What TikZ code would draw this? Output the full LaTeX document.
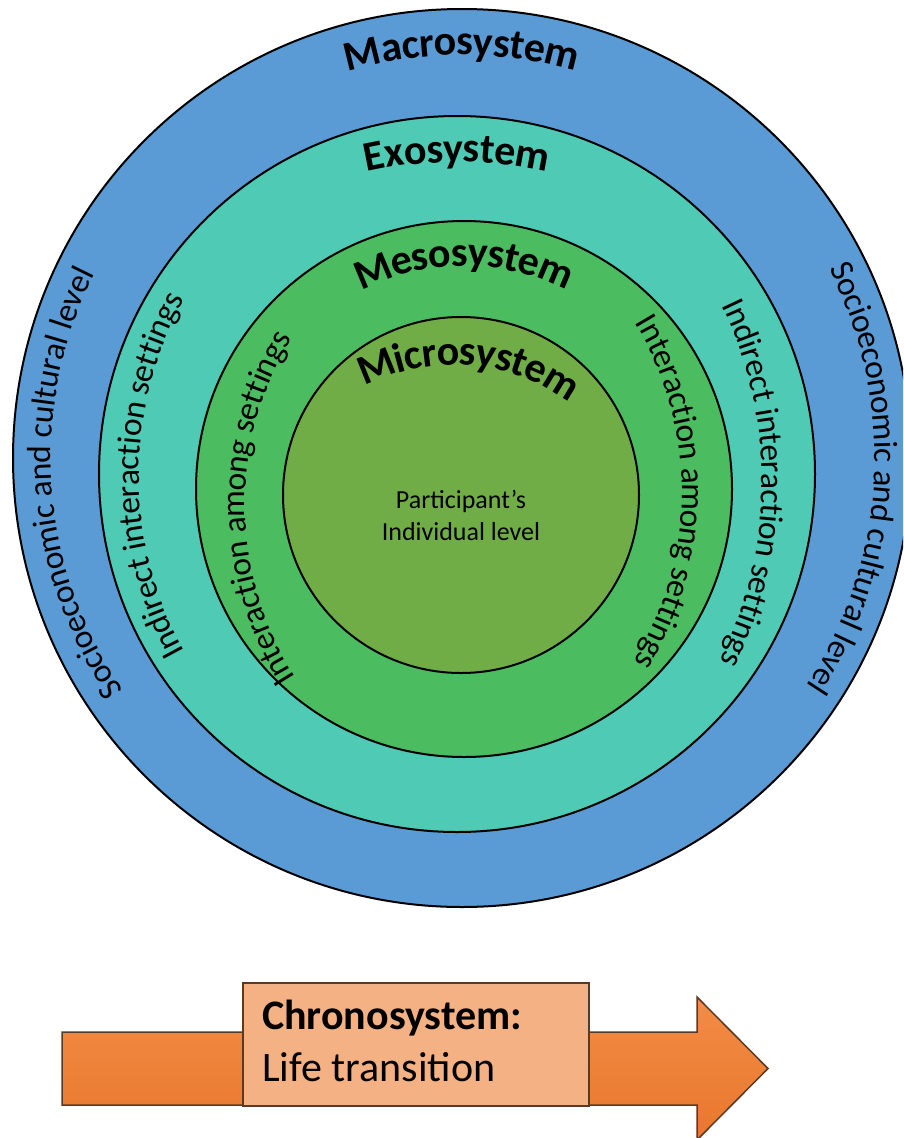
\documentclass[tikz,border=0pt]{standalone}
\usepackage{fontspec}
\setmainfont{Carlito}
\usetikzlibrary{decorations.text}

\definecolor{macroblue}{HTML}{5B9BD5}
\definecolor{exoteal}{HTML}{4FCAB4}
\definecolor{mesogreen}{HTML}{4BBC5F}
\definecolor{microgreen}{HTML}{70AD47}
\definecolor{arrowtop}{HTML}{F38C46}
\definecolor{arrowbottom}{HTML}{E8772C}
\definecolor{arrowedge}{HTML}{5A3A22}
\definecolor{boxfill}{HTML}{F4B183}

\newcommand\bigbold{\fontsize{42}{50}\selectfont\bfseries}
\newcommand\sidefont{\fontsize{33.5}{40}\selectfont}

% text set along a circular arc, running clockwise:
% #1,#2 centre (x, y measured downwards), #3 radius, #4 middle angle,
% #5 half span of the arc, #6 raise of the baseline, #7 text
\newcommand\ringtext[7]{%
  \path[decorate,
        decoration={text along path, text align={align=center}, raise=#6, text={#7}},
        shift={(#1,-#2)}]
    (#4+#5:#3) arc[start angle=#4+#5, end angle=#4-#5, radius=#3];
}

\tikzset{
  ring/.style={draw=black, line width=2pt},
  arrowbody/.style={top color=arrowtop, bottom color=arrowbottom, draw=arrowedge, line width=1.5pt, line join=miter},
  chronobox/.style={draw=arrowedge, line width=1.5pt, fill=boxfill, minimum width=346pt, minimum height=123pt, inner sep=0pt, anchor=north west},
  chronotext/.style={font=\fontsize{42}{50}\selectfont, anchor=base west, inner sep=0pt}
}

\begin{document}
\begin{tikzpicture}[x=1pt,y=1pt]
  \useasboundingbox (0,0) rectangle (903,-1138);
  \clip (0,0) rectangle (903,-1138);
  \fill[white] (0,0) rectangle (903,-1138);

  % nested system circles
  \filldraw[ring, fill=macroblue]  (462,-458) circle[radius=449];
  \filldraw[ring, fill=exoteal]    (457,-474) circle[radius=358];
  \filldraw[ring, fill=mesogreen]  (464,-489) circle[radius=268];
  \filldraw[ring, fill=microgreen] (461,-495) circle[radius=178];

  % ring titles
  \ringtext{462}{458}{413}{90}{40}{-10pt}{|\bigbold|Macrosystem}
  \ringtext{457}{572}{420}{90}{30}{-10pt}{|\bigbold|Exosystem}
  \ringtext{464}{489}{233}{90}{45}{-10pt}{|\bigbold|Mesosystem}
  \ringtext{454}{559}{204}{85.5}{60}{-10pt}{|\bigbold|Microsystem}

  % side descriptions
  \ringtext{462}{458}{419}{183.9}{50}{-8pt}{|\sidefont|Socioeconomic and cultural level}
  \ringtext{462}{458}{421}{-3.15}{50}{-8pt}{|\sidefont|Socioeconomic and cultural level}
  \ringtext{504}{475.5}{373}{180}{50}{-8pt}{|\sidefont|Indirect interaction settings}
  \ringtext{357}{481.5}{413}{-0.3}{45}{-8pt}{|\sidefont|Indirect interaction settings}
  \ringtext{564}{505}{327}{180.6}{55}{-8pt}{|\sidefont|Interaction among settings}
  \ringtext{357}{491.5}{333}{-0.2}{55}{-8pt}{|\sidefont|Interaction among settings}

  % centre label
  \node[align=center, font=\fontsize{26}{32}\selectfont, inner sep=0pt] (indiv) at (461,-515)
    {Participant’s\\Individual level};

  % chronosystem arrow
  \draw[arrowbody] (62,-1032) -- (697,-1032) -- (697,-997) -- (768,-1068.5)
    -- (697,-1140) -- (697,-1105) -- (62,-1105) -- cycle;
  \node[chronobox] (chrono) at (242,-982) {};
  \node[chronotext] (chronotitle) at (262,-1029) {\bfseries Chronosystem:};
  \node[chronotext] (chronosub) at (262,-1081) {Life transition};
\end{tikzpicture}
\end{document}
